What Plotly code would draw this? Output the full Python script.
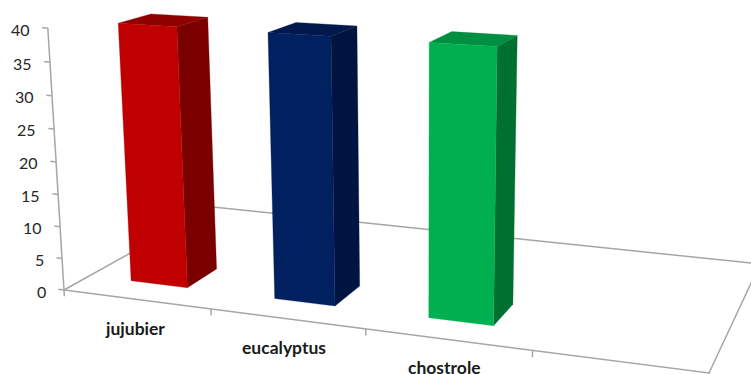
import numpy as np
import plotly.graph_objects as go

categories = ["jujubier", "eucalyptus", "chostrole"]
values = [40, 40, 40]
front_colors = ["#C00000", "#002060", "#00B050"]
side_colors = ["#7A0000", "#001440", "#007030"]
top_colors = ["#8E0000", "#00184C", "#008E40"]
z_ticks = [0, 5, 10, 15, 20, 25, 30, 35, 40]
category_count = 4

W, H_PX = 751, 374
X_MIN, X_MAX = -0.04, 3.96
BAR_START, BAR_W = 0.26, 0.40
DEPTH = (0.15, 0.348)
GREY = "#A6A6A6"

# Camera calibration: floor corners and the vertical vanishing point.
floor_model = [(X_MIN, 0), (X_MAX, 0), (X_MAX, 1), (X_MIN, 1)]
floor_screen = [(64, 290), (709, 373), (760, 264), (213, 207)]
A, b = [], []
for (X, Y), (u, v) in zip(floor_model, floor_screen):
    A.append([X, Y, 1, 0, 0, 0, -u * X, -u * Y]); b.append(u)
    A.append([0, 0, 0, X, Y, 1, -v * X, -v * Y]); b.append(v)
h = np.linalg.solve(np.array(A, float), np.array(b, float))
HM = np.array([[h[0], h[1], h[2]], [h[3], h[4], h[5]], [h[6], h[7], 1.0]])
vp = np.array([420.0, 6060.0, 1.0])
base0 = HM @ np.array([X_MIN, 0.0, 1.0])
kz = (28 * base0[2] - base0[1]) / (vp[1] - 28) / 40


def proj(X, Y, Z):
    q = HM @ np.array([X, Y, 1.0]) + kz * Z * vp
    return q[0] / q[2], q[1] / q[2]


def path(points):
    pts = [proj(*p) for p in points]
    return [p[0] for p in pts], [p[1] for p in pts]


fig = go.Figure()


def line(points):
    x, y = path(points)
    fig.add_trace(go.Scatter(x=x, y=y, mode="lines", line=dict(color=GREY, width=1.5),
                             hoverinfo="skip", showlegend=False))


def face(points, color):
    x, y = path(points + points[:1])
    fig.add_trace(go.Scatter(x=x, y=y, mode="lines", fill="toself", fillcolor=color,
                             line=dict(color=color, width=0.3), hoverinfo="skip", showlegend=False))


line([(X_MIN, 0, 0), (X_MAX, 0, 0), (X_MAX, 1, 0), (X_MIN, 1, 0), (X_MIN, 0, 0)])
line([(X_MIN, 0, 0), (X_MIN, 0, max(z_ticks))])

for z in z_ticks:
    line([(X_MIN - 0.04, 0, z), (X_MIN, 0, z)])
    px, py = proj(X_MIN, 0, z)
    fig.add_annotation(x=px, y=py, text=str(z), showarrow=False, xanchor="right", yanchor="middle",
                       xshift=-16, yshift=-1, font=dict(family="Lato", size=16, color="#262626"))

for i in range(category_count + 1):
    X = X_MIN + i * (X_MAX - X_MIN) / category_count if i in (0, category_count) else i - 0.02
    line([(X, 0, 0), (X, 0, -1)])

for i, (name, v, fc, sc, tc) in enumerate(zip(categories, values, front_colors, side_colors, top_colors)):
    x0, x1 = i + BAR_START, i + BAR_START + BAR_W
    y0, y1 = DEPTH
    face([(x1, y0, 0), (x1, y1, 0), (x1, y1, v), (x1, y0, v)], sc)
    face([(x0, y0, v), (x1, y0, v), (x1, y1, v), (x0, y1, v)], tc)
    face([(x0, y0, 0), (x1, y0, 0), (x1, y0, v), (x0, y0, v)], fc)
    px, py = proj((x0 + x1) / 2, 0, 0)
    fig.add_annotation(x=px, y=py, text=f"<b>{name}</b>", showarrow=False, xanchor="center", yanchor="middle",
                       yshift=-29, font=dict(family="Lato", size=17.5, color="#1A1A1A"))

fig.update_layout(
    width=W, height=H_PX, margin=dict(l=0, r=0, t=0, b=0),
    paper_bgcolor="white", plot_bgcolor="white", showlegend=False,
    xaxis=dict(range=[0, W], visible=False, fixedrange=True),
    yaxis=dict(range=[H_PX, 0], visible=False, fixedrange=True),
)
fig.write_html("out.html", config=dict(displayModeBar=False),
               post_script="document.body.style.margin='0';document.body.style.overflow='hidden';")
